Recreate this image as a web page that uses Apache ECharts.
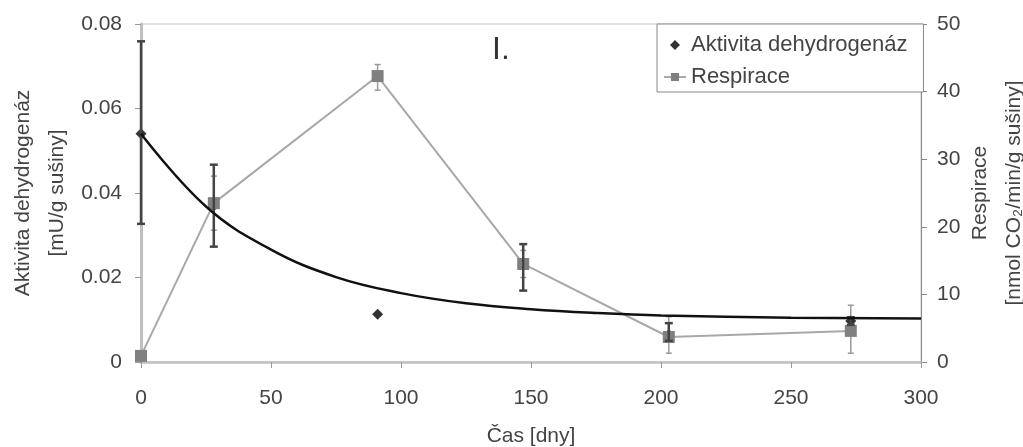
<!DOCTYPE html>
<html>
<head>
<meta charset="utf-8">
<script src="https://cdn.jsdelivr.net/npm/echarts@6/dist/echarts.min.js"></script>
<style>
  html, body { margin: 0; padding: 0; background: #fff; }
  #chart { width: 1023px; height: 447px; }
</style>
</head>
<body>
<div id="chart"></div>
<script>
// casy odberu [dny]
const days = [0, 28, 91, 147, 203, 273];

// aktivita dehydrogenaz [mU/g susiny] + chybove useky
const dehydro = [0.054, 0.037, 0.0113, 0.0232, 0.0065, 0.0097];
const dehydroLow = [0.0327, 0.0273, null, 0.0169, 0.005, 0.0088];
const dehydroHigh = [0.0759, 0.0467, null, 0.0279, 0.0092, 0.0106];

// respirace [nmol CO2/min/g susiny] + chybove useky
const resp = [0.9, 23.5, 42.3, 14.5, 3.7, 4.6];
const respLow = [null, 19.5, 40.2, 12.5, 1.3, 1.3];
const respHigh = [null, 27.5, 44.0, 16.5, 6.7, 8.4];

// spojnice trendu
const trendDays = [0, 25, 50, 75, 100, 125, 150, 175, 200, 250, 300];
const trendVals = [0.054, 0.0368, 0.0266, 0.0201, 0.0163, 0.0139, 0.0125, 0.0116, 0.011, 0.0105, 0.0103];

const font = "'Liberation Sans', Arial, sans-serif";
const txt = '#444';

function errData(lo, hi) {
  const out = [];
  days.forEach((d, i) => {
    if (lo[i] != null && hi[i] != null) out.push([d, lo[i], hi[i]]);
  });
  return out;
}

function errRender(color, width, cap) {
  return function (params, api) {
    const top = api.coord([api.value(0), api.value(2)]);
    const bot = api.coord([api.value(0), api.value(1)]);
    const st = { stroke: color, lineWidth: width };
    return {
      type: 'group',
      children: [
        { type: 'line', shape: { x1: top[0], y1: top[1], x2: bot[0], y2: bot[1] }, style: st },
        { type: 'line', shape: { x1: top[0] - cap, y1: top[1], x2: top[0] + cap, y2: top[1] }, style: st },
        { type: 'line', shape: { x1: bot[0] - cap, y1: bot[1], x2: bot[0] + cap, y2: bot[1] }, style: st }
      ]
    };
  };
}

const chart = echarts.init(document.getElementById('chart'));
chart.setOption({
  animation: false,
  backgroundColor: '#fff',
  textStyle: { fontFamily: font },
  grid: {
    left: 141, right: 102, top: 24, bottom: 85,
    containLabel: false, outerBoundsMode: 'none',
    show: true, borderColor: '#c8c8c8', borderWidth: 1
  },
  legend: {
    left: 657, top: 24,
    orient: 'vertical',
    data: [
      { name: 'Aktivita dehydrogenáz', icon: 'path://M5,0L10,5L5,10L0,5Z' },
      { name: 'Respirace' }
    ],
    backgroundColor: '#fff',
    borderColor: '#888', borderWidth: 1, borderRadius: 0,
    padding: [10, 16, 4, 6],
    itemGap: 10,
    itemWidth: 22, itemHeight: 10,
    textStyle: { fontSize: 22, color: txt, fontFamily: font }
  },
  graphic: [{
    type: 'text', left: 492, top: 34,
    style: { text: 'I.', fontSize: 32, fill: '#333', fontFamily: font }
  }],
  xAxis: {
    type: 'value', min: 0, max: 300, interval: 50,
    name: 'Čas [dny]', nameLocation: 'middle', nameGap: 64, nameMoveOverlap: false,
    nameTextStyle: { fontSize: 21, color: txt },
    axisLine: { show: true, lineStyle: { color: '#c0c0c0', width: 2.5 } },
    axisTick: { show: true, length: 6, lineStyle: { color: '#999' } },
    axisLabel: { fontSize: 21, color: txt, margin: 26 },
    splitLine: { show: false }
  },
  yAxis: [{
    type: 'value', min: 0, max: 0.08, interval: 0.02,
    name: 'Aktivita dehydrogenáz\n[mU/g sušiny]', nameLocation: 'middle', nameGap: 67, nameMoveOverlap: false,
    nameTextStyle: { fontSize: 21, color: txt, lineHeight: 34 },
    axisLine: { show: true, lineStyle: { color: '#c0c0c0', width: 3 } },
    axisTick: { show: true, length: 6, lineStyle: { color: '#999' } },
    axisLabel: { fontSize: 21, color: txt, margin: 19, formatter: v => v === 0 ? '0' : v.toFixed(2) },
    splitLine: { show: false }
  }, {
    type: 'value', min: 0, max: 50, interval: 10, position: 'right',
    name: 'Respirace\n[nmol CO₂/min/g sušiny]', nameLocation: 'middle', nameGap: 42, nameRotate: 90, nameMoveOverlap: false,
    nameTextStyle: { fontSize: 21, color: txt, lineHeight: 34 },
    axisLine: { show: true, lineStyle: { color: '#888', width: 1 } },
    axisTick: { show: true, length: 6, lineStyle: { color: '#888' } },
    axisLabel: { fontSize: 21, color: txt, margin: 16 },
    splitLine: { show: false }
  }],
  series: [
    {
      type: 'custom', name: 'errResp', yAxisIndex: 1, z: 2,
      renderItem: errRender('#9a9a9a', 1.5, 3),
      data: errData(respLow, respHigh)
    },
    {
      type: 'scatter', name: 'Aktivita dehydrogenáz', yAxisIndex: 0, z: 2,
      data: days.map((d, i) => [d, dehydro[i]]),
      symbol: 'diamond', symbolSize: 11, symbolKeepAspect: true,
      itemStyle: { color: '#000' }
    },
    {
      type: 'line', name: 'Respirace', yAxisIndex: 1, z: 3,
      data: days.map((d, i) => [d, resp[i]]),
      lineStyle: { color: '#a8a8a8', width: 2 },
      itemStyle: { color: '#808080' },
      symbol: 'rect', symbolSize: 12, showSymbol: true
    },
    {
      type: 'custom', name: 'errDehydro', yAxisIndex: 0, z: 4,
      renderItem: errRender('#444', 2.5, 4),
      data: errData(dehydroLow, dehydroHigh)
    },
    {
      type: 'line', name: 'trend', yAxisIndex: 0, z: 5,
      data: trendDays.map((d, i) => [d, trendVals[i]]),
      smooth: 0.4, showSymbol: false, symbol: 'none',
      lineStyle: { color: '#111', width: 2.5 }
    }
  ]
});
</script>
</body>
</html>
